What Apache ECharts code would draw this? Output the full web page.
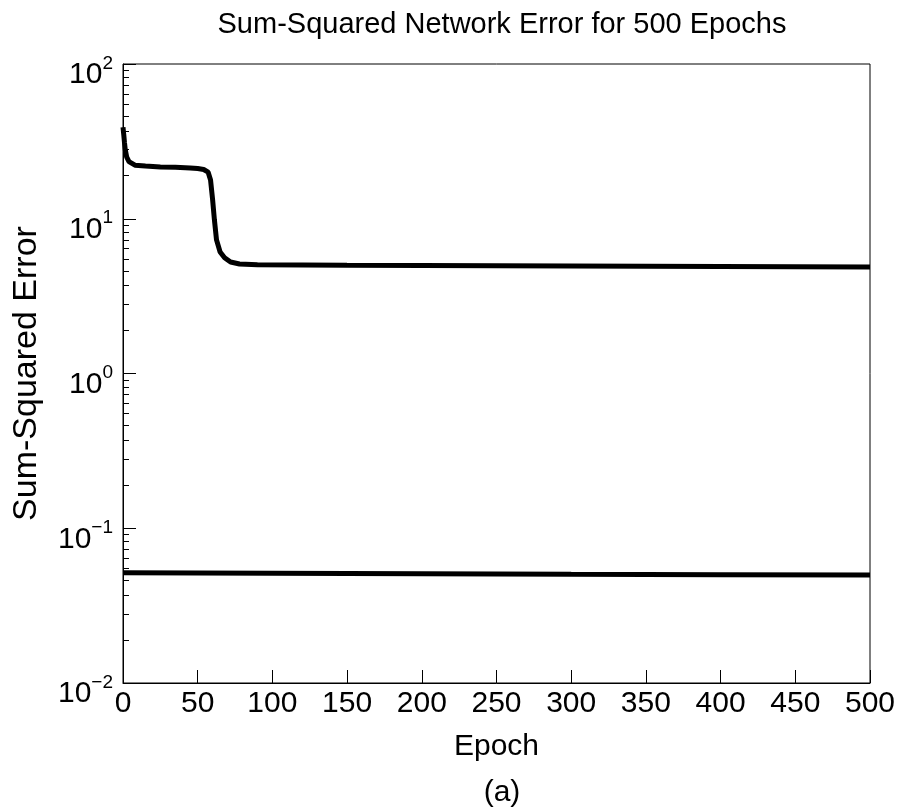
<!DOCTYPE html>
<html>
<head>
<meta charset="utf-8">
<script src="https://cdn.jsdelivr.net/npm/echarts@6/dist/echarts.min.js"></script>
<style>
  html, body { margin: 0; padding: 0; background: #fff; }
  #main { width: 901px; height: 812px; }
</style>
</head>
<body>
<div id="main"></div>
<script>
// epochs and error values
var epochsA = [0, 0.5, 1, 1.5, 2.5, 4, 8, 15, 25, 35, 45, 50, 54, 57, 58.6, 60, 61.2, 62.6, 65, 68, 72, 78, 90, 150, 250, 350, 500];
var errorA  = [39, 35, 31, 28, 25, 23.4, 22.2, 21.9, 21.6, 21.5, 21.3, 21.1, 20.8, 20, 17.8, 13.2, 9.8, 7.3, 6.1, 5.6, 5.25, 5.1, 5.05, 5.0, 4.97, 4.93, 4.88];

var epochsB = [0, 100, 200, 300, 400, 500];
var errorB  = [0.0516, 0.0512, 0.0508, 0.0504, 0.0501, 0.0498];

var xTicks = [0, 50, 100, 150, 200, 250, 300, 350, 400, 450, 500];

function pairs(xs, ys) {
    var res = [];
    for (var i = 0; i < xs.length; ++i) res.push([xs[i], ys[i]]);
    return res;
}

var font = 'Liberation Sans, Arial, Helvetica, sans-serif';
var chart = echarts.init(document.getElementById('main'), null, {renderer: 'canvas'});

var option = {
    animation: false,
    backgroundColor: '#fff',
    title: [
        {text: 'Sum-Squared Network Error for 500 Epochs', left: 497, top: 5, textAlign: 'center',
         textStyle: {fontFamily: font, fontSize: 29, fontWeight: 'normal', color: '#000'}},
        {text: '(a)', left: 497, top: 773, textAlign: 'center',
         textStyle: {fontFamily: font, fontSize: 30, fontWeight: 'normal', color: '#000'}}
    ],
    grid: {left: 123, right: 31, top: 64, bottom: 129, show: true, borderColor: '#000', borderWidth: 1},
    xAxis: {
        type: 'value', min: xTicks[0], max: xTicks[xTicks.length - 1], interval: 50,
        name: 'Epoch', nameLocation: 'middle', nameGap: 49,
        nameTextStyle: {fontFamily: font, fontSize: 30, color: '#000'},
        axisLine: {lineStyle: {color: '#000', width: 1}},
        axisTick: {inside: true, length: 13, lineStyle: {color: '#000'}},
        axisLabel: {fontFamily: font, fontSize: 30, color: '#000', margin: 6},
        splitLine: {show: false}
    },
    yAxis: {
        type: 'log', logBase: 10, min: 0.01, max: 100,
        name: 'Sum-Squared Error', nameLocation: 'middle', nameGap: 79,
        nameTextStyle: {fontFamily: font, fontSize: 34, color: '#000'},
        axisLine: {show: true, lineStyle: {color: '#000', width: 1}},
        axisTick: {inside: true, length: 13, lineStyle: {color: '#000'}},
        minorTick: {show: true, splitNumber: 10, length: 6, lineStyle: {color: '#000'}},
        splitLine: {show: false},
        axisLabel: {
            margin: 10,
            padding: [16, 0, 0, 0],
            formatter: function (v) {
                var e = Math.round(Math.log(v) / Math.LN10);
                var s = e < 0 ? '\u2212' + (-e) : '' + e;
                return '{b|10}{s|' + s + '}';
            },
            rich: {
                b: {fontFamily: font, fontSize: 30, color: '#000', lineHeight: 36, verticalAlign: 'bottom'},
                s: {fontFamily: font, fontSize: 19, color: '#000', lineHeight: 36, verticalAlign: 'top'}
            }
        }
    },
    series: [
        {type: 'line', data: pairs(epochsA, errorA), showSymbol: false, symbol: 'none',
         lineStyle: {color: '#000', width: 5}},
        {type: 'line', data: pairs(epochsB, errorB), showSymbol: false, symbol: 'none',
         lineStyle: {color: '#000', width: 5}}
    ]
};
chart.setOption(option);
</script>
</body>
</html>
